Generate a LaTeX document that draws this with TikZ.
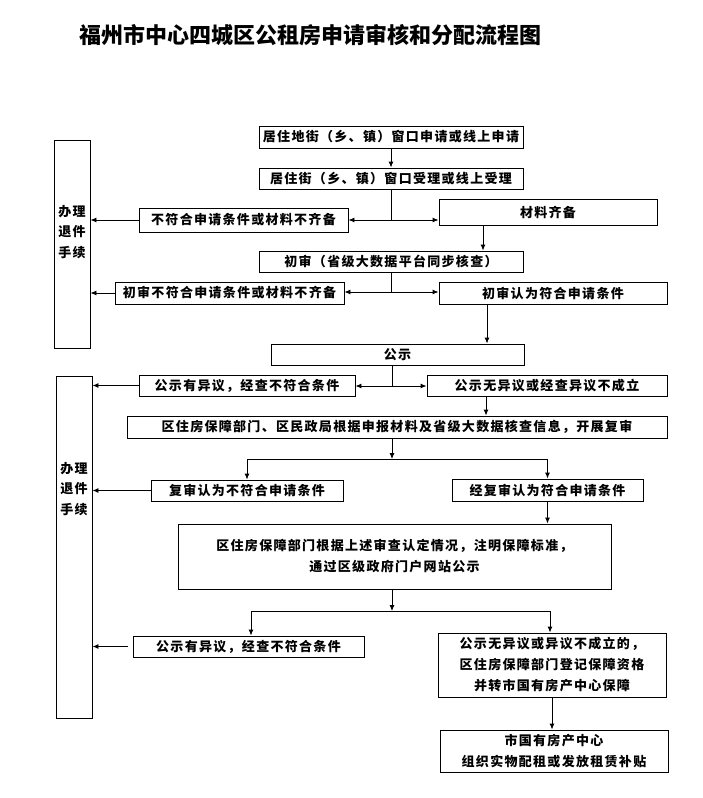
\documentclass[tikz,border=0pt]{standalone}
\usepackage{fontspec}
\setmainfont{Noto Sans CJK SC}
\newfontfamily\cjkbody[LetterSpace=10]{Noto Sans CJK SC}
\usetikzlibrary{arrows.meta}
\tikzset{
  box/.style={draw, line width=0.9pt, inner sep=0pt, align=center,
    font={\cjkbody\bfseries\fontsize{13}{21}\selectfont}},
  side/.style={align=center, inner sep=0pt,
    font={\cjkbody\bfseries\fontsize{13}{20.5}\selectfont}},
  ln/.style={line width=0.9pt},
  arr/.style={line width=0.9pt, -{Latex[length=6pt,width=5pt]}},
}
\begin{document}
\begin{tikzpicture}[x=1pt,y=-1pt]
\useasboundingbox (0,0) rectangle (703,798);
\fill[white] (0,0) rectangle (703,798);
\node[font={\bfseries\fontsize{22}{26}\selectfont}] (title) at (310,35) {福州市中心四城区公租房申请审核和分配流程图};
% left boxes
\node[box, minimum width=36pt, minimum height=208pt] (L1) at (72,244) {};
\node[side] (l1t) at (72,232) {办理\\退件\\手续};
\node[box, minimum width=36pt, minimum height=342pt] (L2) at (74,547) {};
\node[side] (l2t) at (74,489) {办理\\退件\\手续};
% main boxes
\node[box, minimum width=264pt, minimum height=22pt] (A) at (391,137) {居住地街（乡、镇）窗口申请或线上申请};
\node[box, minimum width=264pt, minimum height=21pt] (B) at (391,178.5) {居住街（乡、镇）窗口受理或线上受理};
\node[box, minimum width=209pt, minimum height=24pt] (C) at (243.5,220) {不符合申请条件或材料不齐备};
\node[box, minimum width=218pt, minimum height=26pt] (D) at (548,212) {材料齐备};
\node[box, minimum width=264pt, minimum height=21pt] (E) at (391,261.5) {初审（省级大数据平台同步核查）};
\node[box, minimum width=229pt, minimum height=22pt] (F) at (229.5,293) {初审不符合申请条件或材料不齐备};
\node[box, minimum width=228pt, minimum height=22pt] (G) at (553,293) {初审认为符合申请条件};
\node[box, minimum width=253pt, minimum height=21pt] (H) at (397.5,354.5) {公示};
\node[box, minimum width=216pt, minimum height=21pt] (I) at (247,385.5) {公示有异议，经查不符合条件};
\node[box, minimum width=240pt, minimum height=21pt] (J) at (547,385.5) {公示无异议或经查异议不成立};
\node[box, minimum width=540pt, minimum height=22pt] (K) at (397,427) {区住房保障部门、区民政局根据申报材料及省级大数据核查信息，开展复审};
\node[box, minimum width=192pt, minimum height=21pt] (L) at (247,490.5) {复审认为不符合申请条件};
\node[box, minimum width=191pt, minimum height=22pt] (M) at (547.5,490) {经复审认为符合申请条件};
\node[box, minimum width=433pt, minimum height=65pt] (N) at (394.5,556.5) {区住房保障部门根据上述审查认定情况，注明保障标准，\\通过区级政府门户网站公示};
\node[box, minimum width=231pt, minimum height=21pt] (O) at (248.5,646.5) {公示有异议，经查不符合条件};
\node[box, minimum width=228pt, minimum height=64pt] (P) at (552,665) {公示无异议或异议不成立的，\\区住房保障部门登记保障资格\\并转市国有房产中心保障};
\node[box, minimum width=228pt, minimum height=42pt] (Q) at (554,751) {市国有房产中心\\组织实物配租或发放租赁补贴};
% junction coordinates
\coordinate (j1) at (391,220);
\coordinate (j2) at (391,292);
\coordinate (j3) at (392,386);
\coordinate (j4) at (392,459);
\coordinate (j5) at (392,611);
\coordinate (xd) at (483,0);
\coordinate (xg) at (487,0);
\coordinate (xj) at (486,0);
\coordinate (xo) at (251,0);
\coordinate (xp) at (550,0);
\coordinate (xq) at (552,0);
% connectors
\draw[arr] (A.south) -- (B.north);
\draw[ln] (B.south) -- (j1);
\draw[arr] (j1) -- (j1 -| C.east);
\draw[arr] (j1) -- (j1 -| D.west);
\draw[arr] (C.west) -- (C.west -| L1.east);
\draw[arr] (D.south -| xd) -- (E.north -| xd);
\draw[ln] (E.south) -- (j2);
\draw[arr] (j2) -- (j2 -| F.east);
\draw[arr] (j2) -- (j2 -| G.west);
\draw[arr] (F.west) -- (F.west -| L1.east);
\draw[arr] (G.south -| xg) -- (H.north -| xg);
\draw[ln] (H.south -| j3) -- (j3);
\draw[arr] (j3) -- (j3 -| I.east);
\draw[arr] (j3) -- (j3 -| J.west);
\draw[arr] (I.west) -- (I.west -| L2.east);
\draw[arr] (J.south -| xj) -- (K.north -| xj);
\draw[arr] (K.south -| j4) -- (j4);
\draw[ln] (j4 -| L.north) -- (j4 -| M.north);
\draw[arr] (j4 -| L.north) -- (L.north);
\draw[arr] (j4 -| M.north) -- (M.north);
\draw[arr] (L.west) -- (L.west -| L2.east);
\draw[arr] (M.south) -- (M.south |- N.north);
\draw[arr] (N.south -| j5) -- (j5);
\draw[ln] (j5 -| xo) -- (j5 -| xp);
\draw[arr] (j5 -| xo) -- (O.north -| xo);
\draw[arr] (j5 -| xp) -- (P.north -| xp);
\draw[arr] ([xshift=-5pt]O.west) -- (O.west -| L2.east);
\draw[arr] (P.south -| xq) -- (Q.north -| xq);
\end{tikzpicture}
\end{document}
